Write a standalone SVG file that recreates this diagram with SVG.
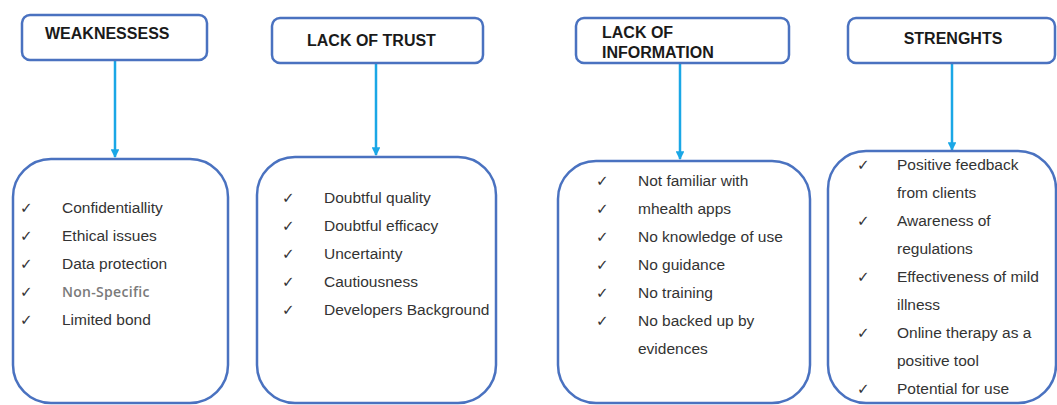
<svg xmlns="http://www.w3.org/2000/svg" width="1057" height="405" viewBox="0 0 1057 405">
  <defs>
    <marker id="arrow" viewBox="0 0 10 10" refX="9" refY="5" markerWidth="3.5" markerHeight="3.5" orient="auto">
      <path d="M0,0 L10,5 L0,10 z" fill="#1AA7E6"/>
    </marker>
    <style>
      .head { fill: #fff; stroke: #4A72C0; stroke-width: 2.5; }
      .body { fill: #fff; stroke: #4A72C0; stroke-width: 2.5; }
      .title { font-family: "Liberation Sans", Arial, sans-serif; font-weight: bold; font-size: 16px; fill: #1a1a1a; }
      .item { font-family: "Liberation Sans", Arial, sans-serif; font-size: 15.5px; fill: #333; }
      .alt { font-family: "Open Sans", sans-serif; font-size: 14px; fill: #7a7a7a; font-weight: 600; letter-spacing: 0.3px; }
      .tick { font-family: "DejaVu Sans", sans-serif; font-size: 15px; fill: #333; }
      .link { stroke: #1AA7E6; stroke-width: 2.5; fill: none; }
    </style>
  </defs>
  <rect width="1057" height="405" fill="#fff"/>

  <!-- connectors -->
  <g id="connectors">
    <line class="link" x1="115" y1="61" x2="115" y2="157" marker-end="url(#arrow)"/>
    <line class="link" x1="376" y1="63" x2="376" y2="155" marker-end="url(#arrow)"/>
    <line class="link" x1="680" y1="63" x2="680" y2="159" marker-end="url(#arrow)"/>
    <line class="link" x1="952" y1="63" x2="952" y2="150" marker-end="url(#arrow)"/>
  </g>

  <!-- weaknesses -->
  <g id="weaknesses-head">
    <rect class="head" x="22" y="15" width="185" height="45" rx="8"/>
    <text class="title" x="45" y="39">WEAKNESSESS</text>
  </g>
  <g id="weaknesses-list">
    <rect class="body" x="13" y="159" width="215" height="244" rx="38"/>
    <g class="tick">
      <text x="20" y="213">✓</text>
      <text x="20" y="241">✓</text>
      <text x="20" y="269">✓</text>
      <text x="20" y="297">✓</text>
      <text x="20" y="325">✓</text>
    </g>
    <text class="item" x="62" y="213">Confidentiallity</text>
    <text class="item" x="62" y="241">Ethical issues</text>
    <text class="item" x="62" y="269">Data protection</text>
    <text class="alt" x="62" y="297">Non-Specific</text>
    <text class="item" x="62" y="325">Limited bond</text>
  </g>

  <!-- lack of trust -->
  <g id="trust-head">
    <rect class="head" x="272" y="18" width="211" height="45" rx="8"/>
    <text class="title" x="307" y="46">LACK OF TRUST</text>
  </g>
  <g id="trust-list">
    <rect class="body" x="257" y="157" width="239" height="246" rx="38"/>
    <g class="tick">
      <text x="282" y="203">✓</text>
      <text x="282" y="231">✓</text>
      <text x="282" y="259">✓</text>
      <text x="282" y="287">✓</text>
      <text x="282" y="315">✓</text>
    </g>
    <text class="item" x="324" y="203">Doubtful quality</text>
    <text class="item" x="324" y="231">Doubtful efficacy</text>
    <text class="item" x="324" y="259">Uncertainty</text>
    <text class="item" x="324" y="287">Cautiousness</text>
    <text class="item" x="324" y="315">Developers Background</text>
  </g>

  <!-- lack of information -->
  <g id="info-head">
    <rect class="head" x="576" y="18" width="213" height="45" rx="8"/>
    <text class="title" x="602" y="38">LACK OF</text>
    <text class="title" x="602" y="58">INFORMATION</text>
  </g>
  <g id="info-list">
    <rect class="body" x="558" y="161" width="252" height="242" rx="38"/>
    <g class="tick">
      <text x="596" y="186">✓</text>
      <text x="596" y="214">✓</text>
      <text x="596" y="242">✓</text>
      <text x="596" y="270">✓</text>
      <text x="596" y="298">✓</text>
      <text x="596" y="326">✓</text>
    </g>
    <text class="item" x="638" y="186">Not familiar with</text>
    <text class="item" x="638" y="214">mhealth apps</text>
    <text class="item" x="638" y="242">No knowledge of use</text>
    <text class="item" x="638" y="270">No guidance</text>
    <text class="item" x="638" y="298">No training</text>
    <text class="item" x="638" y="326">No backed up by</text>
    <text class="item" x="638" y="354">evidences</text>
  </g>

  <!-- strengths -->
  <g id="strengths-head">
    <rect class="head" x="848" y="18" width="207" height="45" rx="8"/>
    <text class="title" x="953" y="44" text-anchor="middle">STRENGHTS</text>
  </g>
  <g id="strengths-list">
    <rect class="body" x="828" y="151" width="228" height="252" rx="38"/>
    <g class="tick">
      <text x="857" y="170">✓</text>
      <text x="857" y="226">✓</text>
      <text x="857" y="282">✓</text>
      <text x="857" y="338">✓</text>
      <text x="857" y="394">✓</text>
    </g>
    <text class="item" x="897" y="170">Positive feedback</text>
    <text class="item" x="897" y="198">from clients</text>
    <text class="item" x="897" y="226">Awareness of</text>
    <text class="item" x="897" y="254">regulations</text>
    <text class="item" x="897" y="282">Effectiveness of mild</text>
    <text class="item" x="897" y="310">illness</text>
    <text class="item" x="897" y="338">Online therapy as a</text>
    <text class="item" x="897" y="366">positive tool</text>
    <text class="item" x="897" y="394">Potential for use</text>
  </g>
</svg>
